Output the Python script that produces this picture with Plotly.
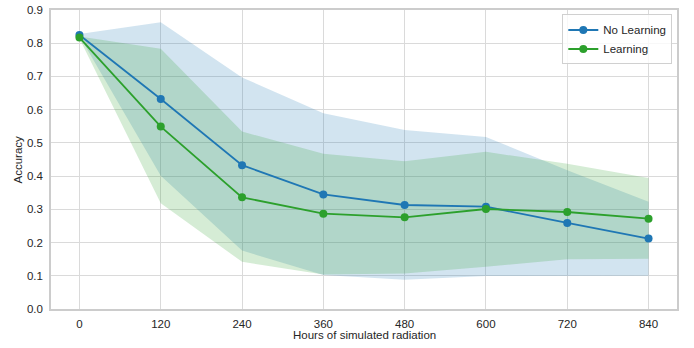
import plotly.graph_objects as go

hours = [0, 120, 240, 360, 480, 600, 720, 840]

no_learning = [0.825, 0.632, 0.433, 0.345, 0.313, 0.308, 0.259, 0.212]
no_learning_upper = [0.828, 0.863, 0.697, 0.589, 0.539, 0.518, 0.418, 0.323]
no_learning_lower = [0.822, 0.401, 0.176, 0.102, 0.088, 0.099, 0.100, 0.100]

learning = [0.817, 0.549, 0.336, 0.287, 0.276, 0.301, 0.292, 0.272]
learning_upper = [0.820, 0.783, 0.534, 0.467, 0.445, 0.473, 0.437, 0.394]
learning_lower = [0.814, 0.318, 0.142, 0.104, 0.107, 0.127, 0.150, 0.151]

y_ticks = [0.0, 0.1, 0.2, 0.3, 0.4, 0.5, 0.6, 0.7, 0.8, 0.9]

BLUE = "#1f77b4"
GREEN = "#2ca02c"
FAM = "Liberation Sans, Arial, sans-serif"
TXT = "#262626"
FS = 11.5

fig = go.Figure()

def band(x, lo, hi, rgba):
    return go.Scatter(
        x=list(x) + list(x)[::-1],
        y=list(hi) + list(lo)[::-1],
        fill="toself", fillcolor=rgba, mode="lines",
        line=dict(width=0, color=rgba), hoverinfo="skip", showlegend=False,
    )

fig.add_trace(band(hours, no_learning_lower, no_learning_upper, "rgba(31,119,180,0.2)"))
fig.add_trace(band(hours, learning_lower, learning_upper, "rgba(44,160,44,0.2)"))

fig.add_trace(go.Scatter(x=hours, y=no_learning, mode="lines+markers", name="No Learning",
                         line=dict(color=BLUE, width=1.8), marker=dict(color=BLUE, size=8)))
fig.add_trace(go.Scatter(x=hours, y=learning, mode="lines+markers", name="Learning",
                         line=dict(color=GREEN, width=1.8), marker=dict(color=GREEN, size=8)))

fig.update_layout(
    width=694, height=348,
    margin=dict(l=51, r=17, t=10, b=39, autoexpand=False),
    paper_bgcolor="white", plot_bgcolor="white",
    font=dict(family=FAM, size=FS, color=TXT),
    legend=dict(x=0.9925, y=0.985, xanchor="right", yanchor="top",
                bgcolor="rgba(255,255,255,0.8)", bordercolor="#d0d0d0", borderwidth=1,
                font=dict(family=FAM, size=FS, color=TXT),
                tracegroupgap=0, itemwidth=30),
    annotations=[
        dict(text="Hours of simulated radiation", xref="paper", yref="paper",
             x=0.5, y=0, xanchor="center", yanchor="middle", yshift=-26,
             showarrow=False, font=dict(family=FAM, size=FS, color=TXT)),
        dict(text="Accuracy", xref="paper", yref="paper",
             x=0, y=0.5, xanchor="center", yanchor="middle", xshift=-34,
             textangle=-90, showarrow=False, font=dict(family=FAM, size=FS, color=TXT)),
    ],
)
fig.update_xaxes(
    range=[-42, 882], tickmode="array", tickvals=hours, ticktext=[str(h) for h in hours],
    showgrid=True, gridcolor="#dadada", gridwidth=1.3, zeroline=False,
    showline=True, linecolor="#cccccc", linewidth=1.5, mirror=True,
    ticks="", ticklen=0, automargin=False, ticklabelstandoff=3,
)
fig.update_yaxes(
    range=[0, 0.9], tickmode="array", tickvals=y_ticks, ticktext=[f"{v:.1f}" for v in y_ticks],
    showgrid=True, gridcolor="#dadada", gridwidth=1.3, zeroline=False,
    showline=True, linecolor="#cccccc", linewidth=1.5, mirror=True,
    ticks="", ticklen=0, automargin=False, ticklabelstandoff=4,
)

fig.write_html("out.html", config={"displayModeBar": False},
               post_script="document.body.style.margin='0';document.body.style.overflow='hidden';")
